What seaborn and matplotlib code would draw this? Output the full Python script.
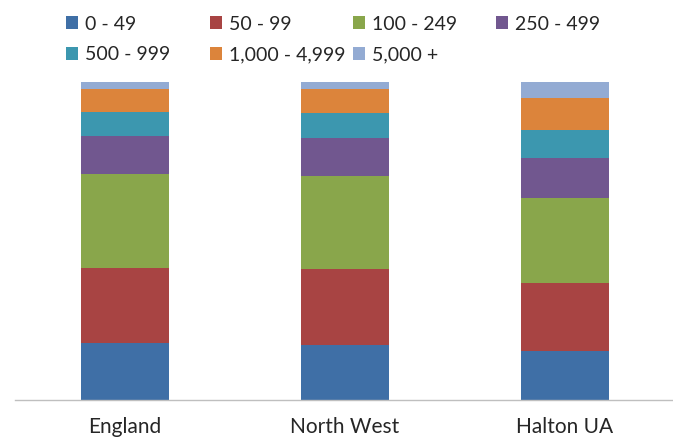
import matplotlib
matplotlib.use("Agg")
import matplotlib.pyplot as plt
import seaborn as sns
import numpy as np
import pandas as pd
from matplotlib.patches import Patch

regions = ["England", "North West", "Halton UA"]
bands = ["0 - 49", "50 - 99", "100 - 249", "250 - 499", "500 - 999", "1,000 - 4,999", "5,000 +"]
band_0_49 = [17.9, 17.4, 15.3]
band_50_99 = [23.8, 24.0, 21.5]
band_100_249 = [29.4, 29.1, 26.9]
band_250_499 = [12.0, 12.1, 12.6]
band_500_999 = [7.6, 7.9, 8.7]
band_1000_4999 = [7.2, 7.3, 10.2]
band_5000_plus = [2.1, 2.2, 4.8]
colors = ["#3F6FA6", "#A84443", "#89A64B", "#71578F", "#3C97AF", "#DC843B", "#93ABD3"]

series = [band_0_49, band_50_99, band_100_249, band_250_499, band_500_999, band_1000_4999, band_5000_plus]
df = pd.DataFrame(np.array(series).T, columns=bands)
df["Region"] = regions
cum = df[bands].cumsum(axis=1)

sns.set_style("white")
plt.rcParams['font.family'] = ['Lato', 'DejaVu Sans']

W, H = 673, 437
fig = plt.figure(figsize=(W / 100, H / 100), dpi=100)
ax = fig.add_axes([15 / W, 37 / H, 660 / W, 317.6 / H])

for i in reversed(range(len(bands))):
    d = pd.DataFrame({"Region": regions, "v": cum[bands[i]].values})
    sns.barplot(data=d, x="Region", y="v", order=regions, color=colors[i],
                width=0.4, ax=ax, saturation=1, edgecolor="none", linewidth=0)

ax.set_ylim(0, 100)
ax.set_xlim(-0.5, 2.5)
ax.set_xlabel("")
ax.set_ylabel("")
ax.set_yticks([])
for s in ["top", "right", "left"]:
    ax.spines[s].set_visible(False)
ax.spines["bottom"].set_color("#BFBFBF")
ax.spines["bottom"].set_linewidth(1.0)
ax.set_xticks([0, 1, 2])
ax.set_xticklabels(regions, fontsize=15, color="#262626")
ax.tick_params(axis="x", which="major", length=0, pad=12)
ax.set_xticks([-0.5, 0.5, 1.5, 2.5], minor=True)
ax.tick_params(axis="x", which="minor", length=7, color="#BFBFBF", width=1, direction="out")

# legend: each entry placed in its own grid slot (4 columns x 2 rows)
col_x = [66, 210, 353, 496]
row_y = [24, 55]
for k, (lab, c) in enumerate(zip(bands, colors)):
    r, cidx = divmod(k, 4)
    fig.legend([Patch(facecolor=c, edgecolor="none")], [lab],
               loc="center left", bbox_to_anchor=(col_x[cidx] / W, 1 - row_y[r] / H),
               frameon=False, fontsize=14, handlelength=0.6, handleheight=0.6,
               handletextpad=0.4, borderaxespad=0, borderpad=0, labelcolor="#262626")

fig.savefig("out.png", dpi=100)
